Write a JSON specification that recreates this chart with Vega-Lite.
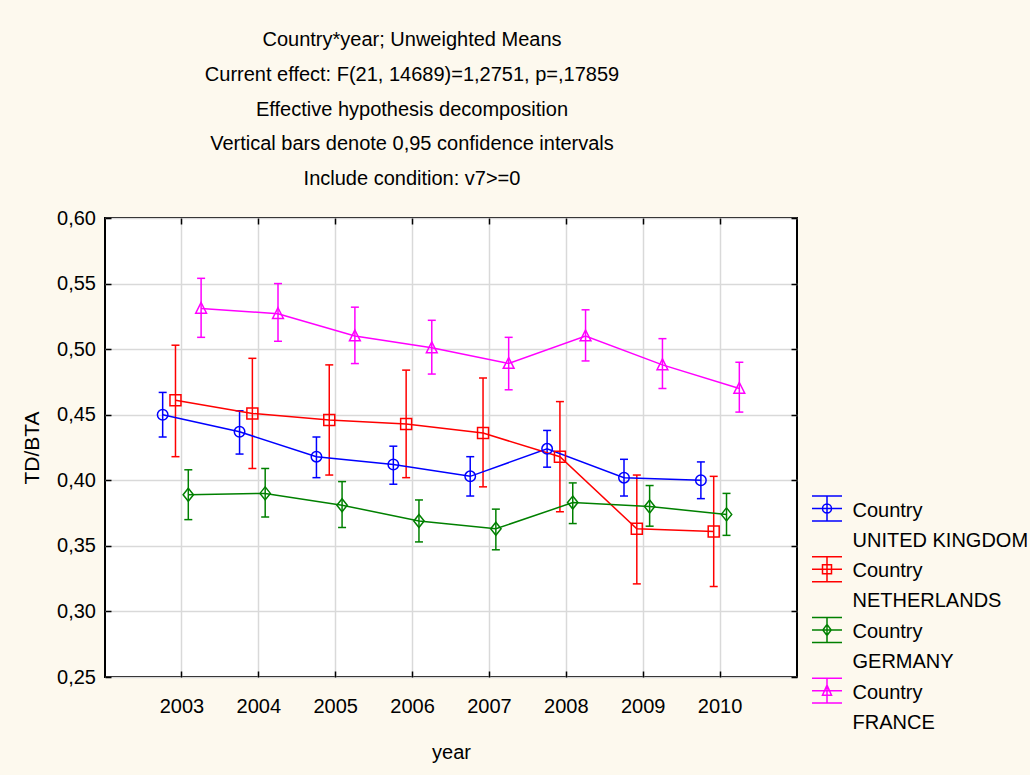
{
  "$schema": "https://vega.github.io/schema/vega-lite/v6.json",
  "width": 692,
  "height": 459,
  "autosize": {"type": "none"},
  "padding": {"left": 105, "top": 218, "right": 233, "bottom": 98},
  "background": "#fdf9ee",
  "config": {
    "view": {"fill": "white", "stroke": "black", "strokeWidth": 2},
    "font": "Liberation Sans, Arial, sans-serif",
    "style": {"guide-label": {"lineHeight": 30}}
  },
  "title": {
    "text": ["Country*year; Unweighted Means", "Current effect: F(21, 14689)=1,2751, p=,17859", "Effective hypothesis decomposition", "Vertical bars denote 0,95 confidence intervals", "Include condition: v7>=0"],
    "font": "Liberation Sans, Arial, sans-serif",
    "fontSize": 20,
    "fontWeight": "normal",
    "color": "black",
    "lineHeight": 34.7,
    "anchor": "middle",
    "frame": "group",
    "dx": -39,
    "offset": 19
  },
  "data": {
    "values": [
      {"Country": "UNITED KINGDOM", "year": 2003, "mean": 0.450, "lo": 0.433, "hi": 0.467},
      {"Country": "UNITED KINGDOM", "year": 2004, "mean": 0.437, "lo": 0.420, "hi": 0.453},
      {"Country": "UNITED KINGDOM", "year": 2005, "mean": 0.418, "lo": 0.402, "hi": 0.433},
      {"Country": "UNITED KINGDOM", "year": 2006, "mean": 0.412, "lo": 0.397, "hi": 0.426},
      {"Country": "UNITED KINGDOM", "year": 2007, "mean": 0.403, "lo": 0.388, "hi": 0.418},
      {"Country": "UNITED KINGDOM", "year": 2008, "mean": 0.424, "lo": 0.410, "hi": 0.438},
      {"Country": "UNITED KINGDOM", "year": 2009, "mean": 0.402, "lo": 0.388, "hi": 0.416},
      {"Country": "UNITED KINGDOM", "year": 2010, "mean": 0.400, "lo": 0.386, "hi": 0.414},
      {"Country": "NETHERLANDS", "year": 2003, "mean": 0.461, "lo": 0.418, "hi": 0.503},
      {"Country": "NETHERLANDS", "year": 2004, "mean": 0.451, "lo": 0.409, "hi": 0.493},
      {"Country": "NETHERLANDS", "year": 2005, "mean": 0.446, "lo": 0.404, "hi": 0.488},
      {"Country": "NETHERLANDS", "year": 2006, "mean": 0.443, "lo": 0.402, "hi": 0.484},
      {"Country": "NETHERLANDS", "year": 2007, "mean": 0.436, "lo": 0.395, "hi": 0.478},
      {"Country": "NETHERLANDS", "year": 2008, "mean": 0.418, "lo": 0.376, "hi": 0.460},
      {"Country": "NETHERLANDS", "year": 2009, "mean": 0.363, "lo": 0.321, "hi": 0.404},
      {"Country": "NETHERLANDS", "year": 2010, "mean": 0.361, "lo": 0.319, "hi": 0.403},
      {"Country": "GERMANY", "year": 2003, "mean": 0.389, "lo": 0.370, "hi": 0.408},
      {"Country": "GERMANY", "year": 2004, "mean": 0.390, "lo": 0.372, "hi": 0.409},
      {"Country": "GERMANY", "year": 2005, "mean": 0.381, "lo": 0.364, "hi": 0.399},
      {"Country": "GERMANY", "year": 2006, "mean": 0.369, "lo": 0.353, "hi": 0.385},
      {"Country": "GERMANY", "year": 2007, "mean": 0.363, "lo": 0.347, "hi": 0.378},
      {"Country": "GERMANY", "year": 2008, "mean": 0.383, "lo": 0.367, "hi": 0.398},
      {"Country": "GERMANY", "year": 2009, "mean": 0.380, "lo": 0.365, "hi": 0.396},
      {"Country": "GERMANY", "year": 2010, "mean": 0.374, "lo": 0.358, "hi": 0.390},
      {"Country": "FRANCE", "year": 2003, "mean": 0.531, "lo": 0.509, "hi": 0.554},
      {"Country": "FRANCE", "year": 2004, "mean": 0.527, "lo": 0.506, "hi": 0.550},
      {"Country": "FRANCE", "year": 2005, "mean": 0.510, "lo": 0.489, "hi": 0.532},
      {"Country": "FRANCE", "year": 2006, "mean": 0.501, "lo": 0.481, "hi": 0.522},
      {"Country": "FRANCE", "year": 2007, "mean": 0.489, "lo": 0.469, "hi": 0.509},
      {"Country": "FRANCE", "year": 2008, "mean": 0.510, "lo": 0.491, "hi": 0.530},
      {"Country": "FRANCE", "year": 2009, "mean": 0.488, "lo": 0.470, "hi": 0.508},
      {"Country": "FRANCE", "year": 2010, "mean": 0.470, "lo": 0.452, "hi": 0.490}
    ]
  },
  "resolve": {
    "axis": {"x": "independent", "y": "independent"}
  },
  "layer": [
    {
      "transform": [{"filter": "false"}],
      "mark": {"type": "point", "filled": false, "opacity": 1, "strokeWidth": 1.5},
      "encoding": {
        "color": {
          "field": "Country", "type": "nominal",
          "scale": {"domain": ["UNITED KINGDOM", "NETHERLANDS", "GERMANY", "FRANCE"], "range": ["#0000ff", "#ff0000", "#008000", "#ff00ff"]},
          "legend": {
            "orient": "none", "legendX": 706, "legendY": 282.5, "title": null, "padding": 0,
            "symbolSize": 900, "symbolStrokeWidth": 1.5, "symbolOpacity": 1,
            "labelExpr": "['Country', datum.label]",
            "labelFont": "Liberation Sans, Arial, sans-serif",
            "labelFontSize": 20, "labelColor": "black", "labelOffset": 9.5, "labelBaseline": "alphabetic",
            "labelLimit": 0, "rowPadding": 2.7
          }
        },
        "shape": {
          "field": "Country", "type": "nominal",
          "scale": {
            "domain": ["UNITED KINGDOM", "NETHERLANDS", "GERMANY", "FRANCE"],
            "range": [
              "M-1,-1.36H1M-1,-0.53H1M-1,0.3H1M0,-1.36V0.3M-0.3,-0.53A0.3,0.3 0 1,0 0.3,-0.53A0.3,0.3 0 1,0 -0.3,-0.53",
              "M-1,-1.36H1M-1,-0.53H1M-1,0.3H1M0,-1.36V0.3M-0.3,-0.83H0.3V-0.23H-0.3Z",
              "M-1,-1.36H1M-1,-0.53H1M-1,0.3H1M0,-1.36V0.3M0,-0.9L0.28,-0.53L0,-0.16L-0.28,-0.53Z",
              "M-1,-1.36H1M-1,-0.53H1M-1,0.3H1M0,-1.36V0.3M0,-0.9L0.3,-0.23H-0.3Z"
            ]
          },
          "legend": {
            "orient": "none", "legendX": 706, "legendY": 282.5, "title": null, "padding": 0,
            "symbolSize": 900, "symbolStrokeWidth": 1.5, "symbolOpacity": 1,
            "labelExpr": "['Country', datum.label]",
            "labelFont": "Liberation Sans, Arial, sans-serif",
            "labelFontSize": 20, "labelColor": "black", "labelOffset": 9.5, "labelBaseline": "alphabetic",
            "labelLimit": 0, "rowPadding": 2.7
          }
        }
      }
    },
    {
      "mark": {"type": "rule", "strokeWidth": 1.5},
      "encoding": {
        "x": {
          "field": "year", "type": "ordinal",
          "scale": {"paddingInner": 0, "paddingOuter": 0.5},
          "axis": {
            "orient": "bottom", "title": "year", "labelAngle": 0, "bandPosition": 0.5,
            "grid": true, "gridColor": "#d9d9d9", "gridWidth": 1.5, "domain": false,
            "tickSize": -6, "tickColor": "black", "tickWidth": 1.5,
            "labelPadding": 25, "labelFontSize": 20, "labelColor": "black", "labelBaseline": "top",
            "titleFontSize": 20, "titleFontWeight": "normal", "titleColor": "black",
            "titleBaseline": "middle", "titleY": 75
          }
        },
        "xOffset": {
          "field": "Country", "type": "nominal",
          "scale": {"domain": ["UNITED KINGDOM", "NETHERLANDS", "GERMANY", "FRANCE"], "paddingInner": 0, "paddingOuter": 1.81}
        },
        "y": {
          "field": "lo", "type": "quantitative",
          "scale": {"domain": [0.25, 0.6], "nice": false, "zero": false},
          "axis": {
            "orient": "left", "title": "TD/BTA", "values": [0.25, 0.3, 0.35, 0.4, 0.45, 0.5, 0.55, 0.6],
            "labelExpr": "replace(format(datum.value, '.2f'), '.', ',')",
            "grid": true, "gridColor": "#d9d9d9", "gridWidth": 1.5, "domain": false,
            "tickSize": -6, "tickColor": "black", "tickWidth": 1.5,
            "labelPadding": 15.5, "labelFontSize": 20, "labelColor": "black",
            "titleFont": "Liberation Sans, Arial, sans-serif", "titleFontSize": 21, "titleFontWeight": "normal", "titleColor": "black",
            "titleAngle": -90, "titleX": -73, "titleY": 229.5, "titleAlign": "center", "titleBaseline": "middle"
          }
        },
        "y2": {"field": "hi"},
        "color": {"field": "Country", "type": "nominal", "legend": null}
      }
    },
    {
      "mark": {"type": "point", "shape": "M-1,0H1", "size": 64, "filled": false, "opacity": 1, "strokeWidth": 1.5},
      "encoding": {
        "x": {"field": "year", "type": "ordinal", "axis": null},
        "xOffset": {"field": "Country", "type": "nominal"},
        "y": {"field": "lo", "type": "quantitative", "axis": null},
        "color": {"field": "Country", "type": "nominal", "legend": null}
      }
    },
    {
      "mark": {"type": "point", "shape": "M-1,0H1", "size": 64, "filled": false, "opacity": 1, "strokeWidth": 1.5},
      "encoding": {
        "x": {"field": "year", "type": "ordinal", "axis": null},
        "xOffset": {"field": "Country", "type": "nominal"},
        "y": {"field": "hi", "type": "quantitative", "axis": null},
        "color": {"field": "Country", "type": "nominal", "legend": null}
      }
    },
    {
      "mark": {"type": "line", "strokeWidth": 1.5},
      "encoding": {
        "x": {
          "field": "year", "type": "ordinal",
          "axis": {"orient": "top", "labels": false, "title": null, "grid": false, "domain": false, "bandPosition": 0.5, "tickSize": -6, "tickColor": "black", "tickWidth": 1.5}
        },
        "xOffset": {"field": "Country", "type": "nominal"},
        "y": {
          "field": "mean", "type": "quantitative",
          "axis": {"orient": "right", "labels": false, "title": null, "grid": false, "domain": false, "values": [0.25, 0.3, 0.35, 0.4, 0.45, 0.5, 0.55, 0.6], "tickSize": -6, "tickColor": "black", "tickWidth": 1.5}
        },
        "color": {"field": "Country", "type": "nominal", "legend": null}
      }
    },
    {
      "transform": [{"filter": "datum.Country == 'UNITED KINGDOM'"}],
      "mark": {"type": "point", "shape": "circle", "size": 110, "filled": false, "opacity": 1, "strokeWidth": 1.5},
      "encoding": {
        "x": {"field": "year", "type": "ordinal", "axis": null},
        "xOffset": {"field": "Country", "type": "nominal"},
        "y": {"field": "mean", "type": "quantitative", "axis": null},
        "color": {"field": "Country", "type": "nominal", "legend": null}
      }
    },
    {
      "transform": [{"filter": "datum.Country == 'NETHERLANDS'"}],
      "mark": {"type": "point", "shape": "square", "size": 121, "filled": false, "opacity": 1, "strokeWidth": 1.5},
      "encoding": {
        "x": {"field": "year", "type": "ordinal", "axis": null},
        "xOffset": {"field": "Country", "type": "nominal"},
        "y": {"field": "mean", "type": "quantitative", "axis": null},
        "color": {"field": "Country", "type": "nominal", "legend": null}
      }
    },
    {
      "transform": [{"filter": "datum.Country == 'GERMANY'"}],
      "mark": {"type": "point", "shape": "M0,-1L0.8,0L0,1L-0.8,0Z", "size": 169, "filled": false, "opacity": 1, "strokeWidth": 1.5},
      "encoding": {
        "x": {"field": "year", "type": "ordinal", "axis": null},
        "xOffset": {"field": "Country", "type": "nominal"},
        "y": {"field": "mean", "type": "quantitative", "axis": null},
        "color": {"field": "Country", "type": "nominal", "legend": null}
      }
    },
    {
      "transform": [{"filter": "datum.Country == 'FRANCE'"}],
      "mark": {"type": "point", "shape": "M0,-1L0.9,0.8H-0.9Z", "size": 144, "filled": false, "opacity": 1, "strokeWidth": 1.5},
      "encoding": {
        "x": {"field": "year", "type": "ordinal", "axis": null},
        "xOffset": {"field": "Country", "type": "nominal"},
        "y": {"field": "mean", "type": "quantitative", "axis": null},
        "color": {"field": "Country", "type": "nominal", "legend": null}
      }
    }
  ]
}
